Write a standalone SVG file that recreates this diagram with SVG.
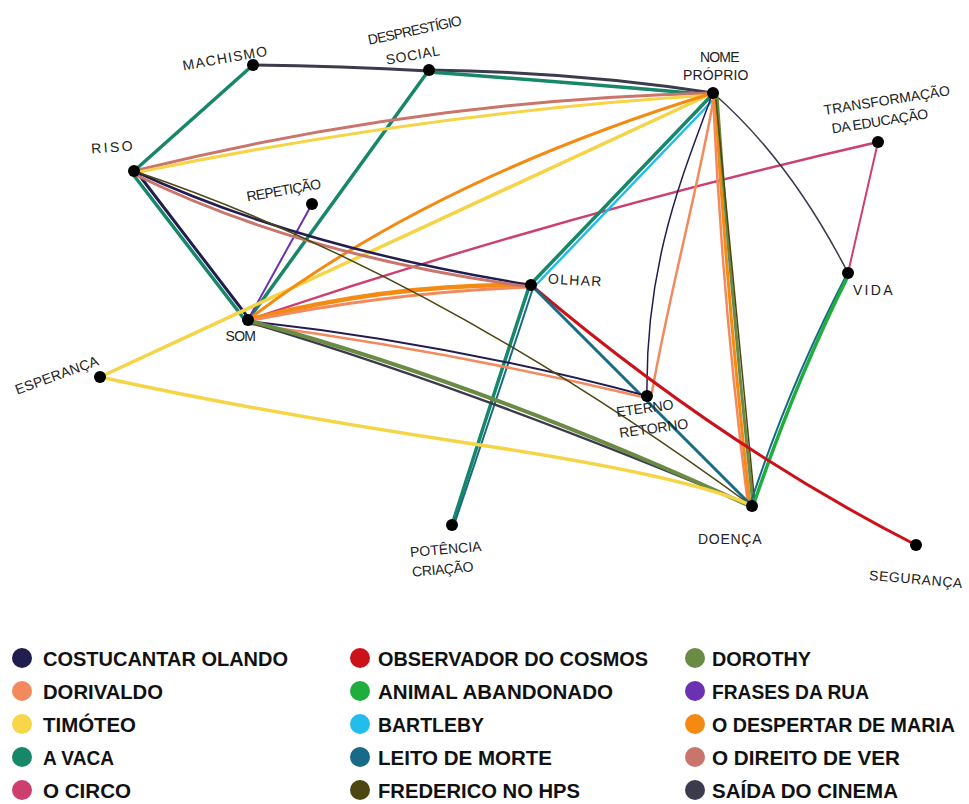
<svg xmlns="http://www.w3.org/2000/svg" width="969" height="804" viewBox="0 0 969 804">
<style>
.e{fill:none;stroke-linecap:round;stroke-linejoin:round}
.navy{stroke:#221d4f}.salmon{stroke:#f28a5e}.yellow{stroke:#f5d447}.teal{stroke:#17876a}
.pink{stroke:#cc3f6e}.red{stroke:#cc1219}.green{stroke:#1fae3c}.cyan{stroke:#22bdea}
.leito{stroke:#176a88}.olive{stroke:#4d4712}.dorothy{stroke:#6b8a43}.purple{stroke:#6a32b0}
.orange{stroke:#f58a12}.rose{stroke:#c9756c}.cinema{stroke:#3c3b4d}
.dot{fill:#000}
.lbl{font-family:"Liberation Sans","DejaVu Sans",sans-serif;font-size:14px;fill:#222;text-anchor:middle;letter-spacing:0.5px}
.lg{font-family:"Liberation Sans",Arial,sans-serif;font-weight:bold;font-size:20px;fill:#111}
</style>
<rect width="969" height="804" fill="#fff"/>
<g id="connectors" class="e">
  <path class="e cinema" stroke-width="3" d="M253,65 Q340,66 429,71"/>
  <path class="e cinema" stroke-width="3" d="M429,70 Q580,72 713,93"/>
  <path class="e teal" stroke-width="3.5" d="M429,72 Q590,84 713,95"/>
  <path class="e teal" stroke-width="3.5" d="M253,65 L134,171"/>
  <path class="e teal" stroke-width="3.5" d="M429,70 L248,320"/>
  <path class="e teal" stroke-width="3.5" d="M132,173 L245,320"/>
  <path class="e navy" stroke-width="3" d="M136,171 L250,320"/>
  <path class="e purple" stroke-width="2" d="M312,204 L249,318"/>
  <path class="e rose" stroke-width="3" d="M134,171 Q420,100 713,93"/>
  <path class="e yellow" stroke-width="3" d="M134,173 Q430,112 713,95"/>
  <path class="e yellow" stroke-width="3.5" d="M100,377 L713,93"/>
  <path class="e orange" stroke-width="3" d="M248,320 Q430,180 713,93"/>
  <path class="e pink" stroke-width="2.5" d="M878,142 Q560,215 248,320"/>
  <path class="e pink" stroke-width="2" d="M878,142 L848,273"/>
  <path class="e cinema" stroke-width="1.5" d="M713,93 Q790,160 848,273"/>
  <path class="e teal" stroke-width="3.5" d="M711,96 L530,285"/>
  <path class="e cyan" stroke-width="2.5" d="M715,98 L534,287"/>
  <path class="e navy" stroke-width="1.5" d="M712,95 C685,170 645,260 647,396"/>
  <path class="e salmon" stroke-width="2.5" d="M714,96 C700,180 670,290 652,392"/>
  <path class="e salmon" stroke-width="2.5" d="M713,95 Q722,300 748,505"/>
  <path class="e orange" stroke-width="3" d="M715,95 Q727,300 750,505"/>
  <path class="e dorothy" stroke-width="3" d="M717,95 Q731,300 753,505"/>
  <path class="e olive" stroke-width="1.5" d="M716,100 Q735,300 755,505"/>
  <path class="e leito" stroke-width="2" d="M846,276 Q789,386 750,505"/>
  <path class="e green" stroke-width="3.5" d="M849,274 Q796,380 753,506"/>
  <path class="e red" stroke-width="3" d="M531,285 Q720,445 916,545"/>
  <path class="e leito" stroke-width="3" d="M531,285 L752,506"/>
  <path class="e teal" stroke-width="3.5" d="M529,287 Q495,390 452,525"/>
  <path class="e leito" stroke-width="2" d="M533,288 Q499,392 455,522"/>
  <path class="e orange" stroke-width="4.5" d="M248,320 Q390,283 531,285"/>
  <path class="e salmon" stroke-width="3" d="M248,321 Q390,292 531,287"/>
  <path class="e navy" stroke-width="2" d="M248,321 Q450,343 647,396"/>
  <path class="e salmon" stroke-width="2.5" d="M248,324 Q450,351 647,398"/>
  <path class="e cinema" stroke-width="2.5" d="M248,322 Q470,388 752,506"/>
  <path class="e dorothy" stroke-width="4" d="M250,321 Q485,384 752,507"/>
  <path class="e navy" stroke-width="2.5" d="M134,171 Q300,248 531,285"/>
  <path class="e rose" stroke-width="3" d="M134,174 Q300,256 531,287"/>
  <path class="e olive" stroke-width="1.5" d="M134,171 Q430,270 752,506"/>
  <path class="e yellow" stroke-width="3.5" d="M100,377 C250,410 380,430 467,443 S700,480 752,506"/>
</g>
<g id="n-machismo"><circle class="dot" cx="253" cy="65" r="6"/><text class="lbl" transform="rotate(-10 225 58)" x="225" y="63" textLength="86">MACHISMO</text></g>
<g id="n-desprestigio"><circle class="dot" cx="429" cy="70" r="6"/><text class="lbl" transform="rotate(-12 415 30)" x="415" y="35" textLength="96">DESPRESTÍGIO</text><text class="lbl" transform="rotate(-10 413 55)" x="413" y="60" textLength="55">SOCIAL</text></g>
<g id="n-nome"><circle class="dot" cx="713" cy="93" r="6"/><text class="lbl" x="720" y="62" textLength="40">NOME</text><text class="lbl" x="716" y="80" textLength="66">PRÓPRIO</text></g>
<g id="n-transformacao"><circle class="dot" cx="878" cy="142" r="6"/><text class="lbl" transform="rotate(-9 887 100)" x="887" y="105" textLength="128">TRANSFORMAÇÃO</text><text class="lbl" transform="rotate(-9 880 121)" x="880" y="126" textLength="98">DA EDUCAÇÃO</text></g>
<g id="n-riso"><circle class="dot" cx="134" cy="171" r="6"/><text class="lbl" transform="rotate(-4 112 147)" x="112" y="152" textLength="42">RISO</text></g>
<g id="n-repeticao"><circle class="dot" cx="312" cy="204" r="6"/><text class="lbl" transform="rotate(-10 284 190)" x="284" y="195" textLength="76">REPETIÇÃO</text></g>
<g id="n-olhar"><circle class="dot" cx="531" cy="285" r="6"/><text class="lbl" transform="rotate(3 575 280)" x="575" y="285" textLength="54">OLHAR</text></g>
<g id="n-vida"><circle class="dot" cx="848" cy="273" r="6"/><text class="lbl" x="873" y="295" textLength="40">VIDA</text></g>
<g id="n-som"><circle class="dot" cx="248" cy="320" r="6"/><text class="lbl" x="241" y="341" textLength="31">SOM</text></g>
<g id="n-esperanca"><circle class="dot" cx="100" cy="377" r="6"/><text class="lbl" transform="rotate(-20 57 375)" x="57" y="380" textLength="88">ESPERANÇA</text></g>
<g id="n-eterno"><circle class="dot" cx="647" cy="396" r="6"/><text class="lbl" transform="rotate(-8 645 408)" x="645" y="413" textLength="58">ETERNO</text><text class="lbl" transform="rotate(-8 654 428)" x="654" y="433" textLength="70">RETORNO</text></g>
<g id="n-doenca"><circle class="dot" cx="752" cy="506" r="6"/><text class="lbl" x="730" y="544" textLength="64">DOENÇA</text></g>
<g id="n-potencia"><circle class="dot" cx="452" cy="525" r="6"/><text class="lbl" transform="rotate(-5 446 549)" x="446" y="554" textLength="72">POTÊNCIA</text><text class="lbl" transform="rotate(-5 443 569)" x="443" y="574" textLength="62">CRIAÇÃO</text></g>
<g id="n-seguranca"><circle class="dot" cx="916" cy="545" r="6"/><text class="lbl" transform="rotate(5 916 579)" x="916" y="584" textLength="94">SEGURANÇA</text></g>
<g id="legend">
  <circle cx="22" cy="658" r="10" fill="#221d4f"/><text class="lg" x="43" y="665.5" textLength="245" lengthAdjust="spacingAndGlyphs">COSTUCANTAR OLANDO</text>
  <circle cx="22" cy="691" r="10" fill="#f28a5e"/><text class="lg" x="43" y="698.5" textLength="120" lengthAdjust="spacingAndGlyphs">DORIVALDO</text>
  <circle cx="22" cy="724" r="10" fill="#f7d64a"/><text class="lg" x="43" y="731.5" textLength="93" lengthAdjust="spacingAndGlyphs">TIMÓTEO</text>
  <circle cx="22" cy="757" r="10" fill="#17876a"/><text class="lg" x="43" y="764.5" textLength="71" lengthAdjust="spacingAndGlyphs">A VACA</text>
  <circle cx="22" cy="790" r="10" fill="#cc3f6e"/><text class="lg" x="43" y="797.5" textLength="88" lengthAdjust="spacingAndGlyphs">O CIRCO</text>
  <circle cx="360" cy="658" r="10" fill="#cc1219"/><text class="lg" x="378" y="665.5" textLength="270" lengthAdjust="spacingAndGlyphs">OBSERVADOR DO COSMOS</text>
  <circle cx="360" cy="691" r="10" fill="#1fae3c"/><text class="lg" x="378" y="698.5" textLength="235" lengthAdjust="spacingAndGlyphs">ANIMAL ABANDONADO</text>
  <circle cx="360" cy="724" r="10" fill="#22bdea"/><text class="lg" x="378" y="731.5" textLength="106" lengthAdjust="spacingAndGlyphs">BARTLEBY</text>
  <circle cx="360" cy="757" r="10" fill="#176a88"/><text class="lg" x="378" y="764.5" textLength="174" lengthAdjust="spacingAndGlyphs">LEITO DE MORTE</text>
  <circle cx="360" cy="790" r="10" fill="#4d4712"/><text class="lg" x="378" y="797.5" textLength="202" lengthAdjust="spacingAndGlyphs">FREDERICO NO HPS</text>
  <circle cx="695" cy="658" r="10" fill="#6b8a43"/><text class="lg" x="712" y="665.5" textLength="99" lengthAdjust="spacingAndGlyphs">DOROTHY</text>
  <circle cx="695" cy="691" r="10" fill="#6a32b0"/><text class="lg" x="712" y="698.5" textLength="157" lengthAdjust="spacingAndGlyphs">FRASES DA RUA</text>
  <circle cx="695" cy="724" r="10" fill="#f58a12"/><text class="lg" x="712" y="731.5" textLength="243" lengthAdjust="spacingAndGlyphs">O DESPERTAR DE MARIA</text>
  <circle cx="695" cy="757" r="10" fill="#c9756c"/><text class="lg" x="712" y="764.5" textLength="188" lengthAdjust="spacingAndGlyphs">O DIREITO DE VER</text>
  <circle cx="695" cy="790" r="10" fill="#3c3b4d"/><text class="lg" x="712" y="797.5" textLength="186" lengthAdjust="spacingAndGlyphs">SAÍDA DO CINEMA</text>
</g>
</svg>
